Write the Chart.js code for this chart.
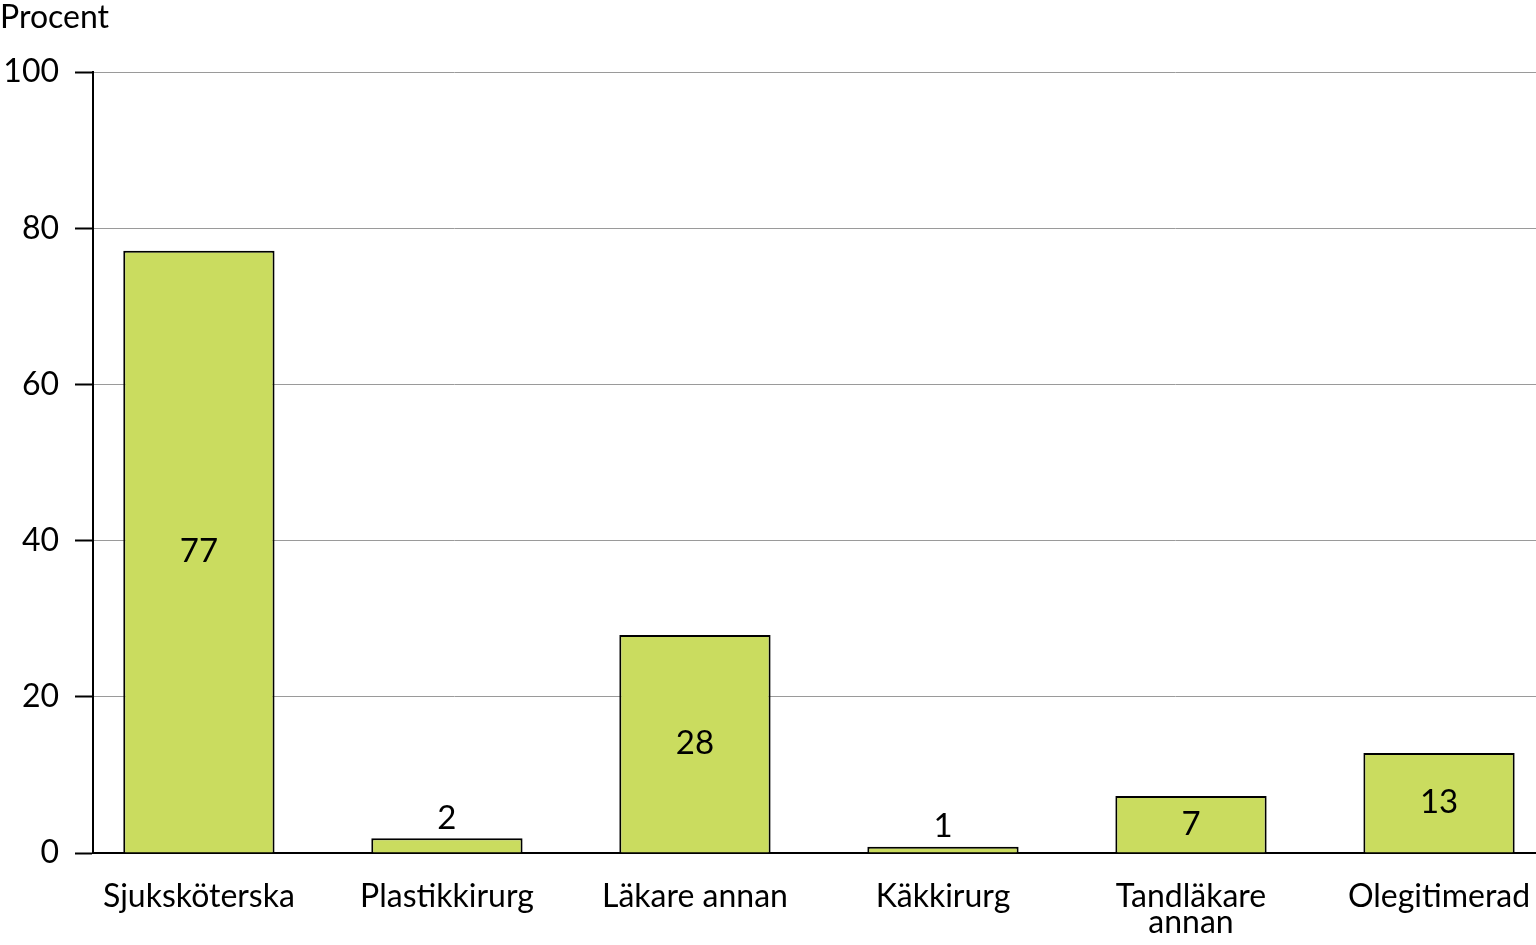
<!DOCTYPE html>
<html>
<head>
<meta charset="utf-8">
<script src="https://cdn.jsdelivr.net/npm/chart.js@4"></script>
<style>
  html, body { margin: 0; padding: 0; background: #fff; overflow: hidden; }
  #wrap { width: 1536px; height: 945px; }
</style>
</head>
<body>
<div id="wrap"><canvas id="chart"></canvas></div>
<script>
const categories = ['Sjuksköterska', 'Plastikkirurg', 'Läkare annan', 'Käkkirurg', ['Tandläkare', 'annan'], 'Olegitimerad'];
const values = [77.1, 1.9, 27.9, 0.8, 7.3, 12.8];
const valueLabels = ['77', '2', '28', '1', '7', '13'];
const yTicks = [0, 20, 40, 60, 80, 100];

const FONT = 'Lato, "Noto Sans", sans-serif';
// visible x range in category units (last category is cut at the right edge)
const X_MIN = -0.427;
const X_MAX = 5.391;

// draws the numbers on/above bars and the unit text top left
const labelPlugin = {
  id: 'barLabels',
  afterDatasetsDraw(chart) {
    const ctx = chart.ctx;
    const meta = chart.getDatasetMeta(0);
    ctx.save();
    ctx.fillStyle = '#000';
    ctx.font = '33px ' + FONT;
    ctx.textAlign = 'center';
    ctx.textBaseline = 'middle';
    meta.data.forEach((bar, i) => {
      const inside = values[i] >= 5;
      const y = inside ? (bar.y + bar.base) / 2 : bar.y - 20;
      ctx.fillText(valueLabels[i], bar.x, y);
    });
    ctx.font = '32px ' + FONT;
    ctx.textAlign = 'left';
    ctx.fillText('Procent', 0, 18);
    ctx.restore();
  }
};

const ctx = document.getElementById('chart').getContext('2d');

const chart = new Chart(ctx, {
  type: 'bar',
  data: {
    datasets: [{
      data: values.map((v, i) => ({ x: i, y: v })),
      backgroundColor: '#cadc5f',
      borderColor: '#000',
      borderWidth: 2,
      borderSkipped: 'bottom',
      barPercentage: 0.61,
      categoryPercentage: 1
    }]
  },
  options: {
    responsive: true,
    maintainAspectRatio: false,
    animation: false,
    layout: { padding: { top: 72, right: 0, bottom: 0, left: 0 } },
    plugins: {
      legend: { display: false },
      tooltip: { enabled: false }
    },
    scales: {
      x: {
        type: 'linear',
        offset: false,
        bounds: 'data',
        min: X_MIN,
        max: X_MAX,
        afterBuildTicks: (scale) => {
          scale.ticks = categories.map((c, i) => ({ value: i }));
          scale.min = X_MIN;
          scale.max = X_MAX;
        },
        afterFit: (scale) => {
          scale.height = 92;
          scale.paddingLeft = 0;
          scale.paddingRight = 0;
        },
        grid: { display: false, drawTicks: false, offset: false },
        border: { color: '#000', width: 2 },
        ticks: {
          color: '#000',
          padding: 31,
          font: { family: FONT, size: 32, lineHeight: 0.8 },
          maxRotation: 0,
          autoSkip: false,
          callback: (v) => categories[v]
        }
      },
      y: {
        min: 0,
        max: 100,
        afterBuildTicks: (scale) => {
          scale.ticks = yTicks.map(v => ({ value: v }));
        },
        afterFit: (scale) => { scale.width = 93; },
        grid: {
          color: '#9a9a9a',
          lineWidth: 1,
          tickColor: '#000',
          tickWidth: 2,
          tickLength: 18
        },
        border: { color: '#000', width: 2 },
        ticks: {
          color: '#000',
          padding: 16,
          font: { family: FONT, size: 32 }
        }
      }
    }
  },
  plugins: [labelPlugin]
});
</script>
</body>
</html>
